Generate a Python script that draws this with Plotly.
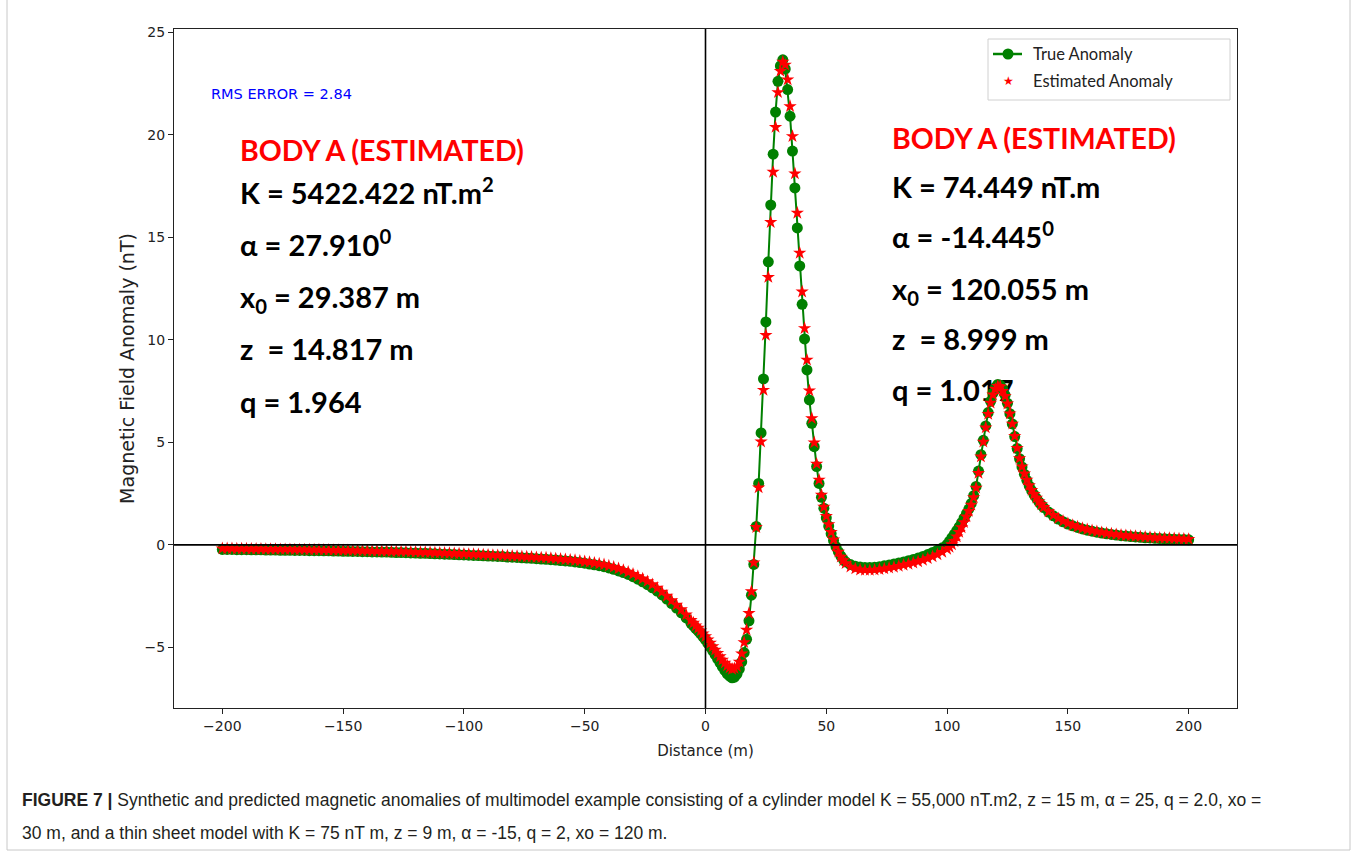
import plotly.graph_objects as go

# ---------------- data ----------------
distance = (list(range(-200, -5, 2)) + list(range(-5, 59)) + list(range(60, 99, 2))
            + list(range(100, 141)) + list(range(142, 201, 2)))

true_anomaly = [
    # -200 .. -6 (step 2)
    -0.22, -0.22, -0.22, -0.23, -0.23, -0.23, -0.24, -0.24, -0.24, -0.25,
    -0.25, -0.25, -0.26, -0.26, -0.26, -0.27, -0.27, -0.27, -0.28, -0.28,
    -0.28, -0.29, -0.29, -0.30, -0.30, -0.31, -0.31, -0.32, -0.32, -0.33,
    -0.33, -0.34, -0.34, -0.35, -0.35, -0.36, -0.37, -0.37, -0.38, -0.39,
    -0.40, -0.41, -0.41, -0.42, -0.43, -0.44, -0.45, -0.46, -0.47, -0.48,
    -0.49, -0.50, -0.51, -0.52, -0.53, -0.54, -0.55, -0.56, -0.57, -0.59,
    -0.60, -0.61, -0.63, -0.64, -0.65, -0.67, -0.69, -0.70, -0.72, -0.74,
    -0.76, -0.78, -0.80, -0.83, -0.86, -0.89, -0.93, -0.97, -1.01, -1.06,
    -1.12, -1.19, -1.27, -1.35, -1.44, -1.55, -1.67, -1.80, -1.94, -2.09,
    -2.25, -2.44, -2.64, -2.86, -3.08, -3.31, -3.56, -3.82,
    # -5 .. 58 (step 1)
    -3.95, -4.08, -4.20, -4.34, -4.48, -4.63, -4.80, -4.98, -5.16, -5.35,
    -5.55, -5.75, -5.95, -6.12, -6.28, -6.40, -6.48, -6.45, -6.30, -6.05,
    -5.70, -5.25, -4.60, -3.70, -2.45, -0.95, 0.90, 3.00, 5.46, 8.09,
    10.87, 13.80, 16.57, 19.05, 21.10, 22.60, 23.35, 23.65, 23.20, 22.20,
    20.90, 19.20, 17.40, 15.45, 13.60, 11.73, 10.04, 8.53, 7.07, 5.93,
    4.79, 3.82, 3.00, 2.32, 1.79, 1.32, 0.92, 0.55, 0.22, -0.08,
    -0.33, -0.54, -0.70, -0.83,
    # 60 .. 98 (step 2)
    -0.96, -1.04, -1.08, -1.10, -1.10, -1.09, -1.06, -1.02, -0.98, -0.93,
    -0.88, -0.83, -0.77, -0.71, -0.64, -0.56, -0.47, -0.37, -0.26, -0.14,
    # 100 .. 140 (step 1)
    0.02, 0.18, 0.35, 0.52, 0.70, 0.88, 1.08, 1.30, 1.52, 1.75,
    2.02, 2.40, 2.85, 3.60, 4.40, 5.10, 5.80, 6.45, 7.00, 7.40,
    7.68, 7.82, 7.78, 7.60, 7.30, 6.90, 6.40, 5.90, 5.28, 4.70,
    4.20, 3.80, 3.45, 3.15, 2.88, 2.65, 2.45, 2.27, 2.10, 1.95, 1.82,
    # 142 .. 200 (step 2)
    1.60, 1.42, 1.26, 1.13, 1.02, 0.93, 0.85, 0.78, 0.72, 0.67,
    0.62, 0.58, 0.54, 0.51, 0.48, 0.45, 0.43, 0.41, 0.39, 0.37,
    0.35, 0.34, 0.32, 0.31, 0.30, 0.29, 0.28, 0.27, 0.26, 0.25,
]

estimated_anomaly = [
    # -200 .. -6 (step 2)
    -0.18, -0.18, -0.18, -0.19, -0.19, -0.19, -0.20, -0.20, -0.20, -0.21,
    -0.21, -0.21, -0.22, -0.22, -0.22, -0.23, -0.23, -0.23, -0.24, -0.24,
    -0.24, -0.25, -0.25, -0.26, -0.26, -0.27, -0.27, -0.28, -0.28, -0.29,
    -0.29, -0.30, -0.30, -0.31, -0.31, -0.32, -0.32, -0.33, -0.33, -0.34,
    -0.35, -0.36, -0.36, -0.37, -0.38, -0.39, -0.40, -0.41, -0.42, -0.43,
    -0.44, -0.45, -0.46, -0.47, -0.48, -0.49, -0.50, -0.51, -0.52, -0.53,
    -0.54, -0.55, -0.57, -0.58, -0.59, -0.61, -0.62, -0.63, -0.65, -0.67,
    -0.69, -0.71, -0.73, -0.75, -0.78, -0.81, -0.84, -0.88, -0.92, -0.96,
    -1.02, -1.08, -1.15, -1.23, -1.32, -1.42, -1.53, -1.65, -1.78, -1.93,
    -2.10, -2.29, -2.49, -2.70, -2.92, -3.15, -3.40, -3.67,
    # -5 .. 58 (step 1)
    -3.80, -3.93, -4.05, -4.18, -4.32, -4.46, -4.62, -4.78, -4.95, -5.12,
    -5.28, -5.44, -5.60, -5.75, -5.88, -5.98, -6.05, -6.02, -5.92, -5.70,
    -5.30, -4.75, -4.14, -3.33, -2.27, -0.86, 0.86, 2.79, 5.03, 7.55,
    10.23, 13.05, 15.73, 18.18, 20.37, 22.06, 23.10, 23.55, 23.40, 22.68,
    21.38, 19.92, 18.10, 16.18, 14.23, 12.34, 10.56, 9.02, 7.52, 6.17,
    4.99, 3.95, 3.17, 2.44, 1.85, 1.40, 1.00, 0.62, 0.26, -0.06,
    -0.34, -0.58, -0.76, -0.90,
    # 60 .. 98 (step 2)
    -1.07, -1.16, -1.21, -1.23, -1.23, -1.22, -1.19, -1.16, -1.12, -1.08,
    -1.03, -0.98, -0.93, -0.87, -0.81, -0.74, -0.66, -0.57, -0.47, -0.35,
    # 100 .. 140 (step 1)
    -0.20, -0.10, 0.02, 0.18, 0.40, 0.62, 0.85, 1.10, 1.38, 1.65,
    1.95, 2.32, 2.78, 3.50, 4.30, 5.02, 5.72, 6.38, 6.92, 7.32,
    7.60, 7.74, 7.72, 7.50, 7.25, 6.88, 6.40, 5.90, 5.30, 4.72,
    4.22, 3.82, 3.47, 3.17, 2.90, 2.67, 2.47, 2.29, 2.12, 1.97, 1.84,
    # 142 .. 200 (step 2)
    1.63, 1.45, 1.29, 1.16, 1.05, 0.96, 0.88, 0.81, 0.75, 0.70,
    0.65, 0.61, 0.57, 0.54, 0.51, 0.48, 0.46, 0.44, 0.42, 0.40,
    0.38, 0.37, 0.35, 0.34, 0.33, 0.32, 0.31, 0.30, 0.29, 0.28,
]

x_ticks = [-200, -150, -100, -50, 0, 50, 100, 150, 200]
y_ticks = [-5, 0, 5, 10, 15, 20, 25]

series_names = ["True Anomaly", "Estimated Anomaly"]
left_title = "BODY A (ESTIMATED)"
left_params = ["K = 5422.422 nT.m<sup>2</sup>", "α = 27.910<sup>0</sup>",
               "x<sub>0</sub> = 29.387 m", "z\u00a0 = 14.817 m", "q = 1.964"]
right_title = "BODY A (ESTIMATED)"
right_params = ["K = 74.449 nT.m", "α = -14.445<sup>0</sup>",
                "x<sub>0</sub> = 120.055 m", "z\u00a0 = 8.999 m", "q = 1.017"]
rms_text = "RMS ERROR = 2.84"
caption_1 = ("<b>FIGURE 7 |</b> Synthetic and predicted magnetic anomalies of multimodel example "
             "consisting of a cylinder model K = 55,000 nT.m2, z = 15 m, α = 25, q = 2.0, xo =")
caption_2 = "30 m, and a thin sheet model with K = 75 nT m, z = 9 m, α = -15, q = 2, xo = 120 m."

# ---------------- layout geometry ----------------
W, H = 1356, 854
L, R, T, B = 174, 1237, 29, 708
XR = [-220, 220]
YR = [-7.95, 25.15]

def px(xp):
    return (xp - L) / (R - L)

def py(yp):
    return (B - yp) / (B - T)

def dx(xp):
    return XR[0] + (xp - L) / (R - L) * (XR[1] - XR[0])

def dy(yp):
    return YR[1] - (yp - T) / (B - T) * (YR[1] - YR[0])

BODY_FONT = "Lato, Roboto, sans-serif"
GREEN = "#008000"
RED = "#ff0000"

fig = go.Figure()

# text blocks (drawn beneath the curves, as in the reference)
def add_block(x_left, ys, title, params):
    fig.add_trace(go.Scatter(
        x=[dx(x_left)], y=[dy(ys[0])], mode="text", text=[title],
        textposition="middle right", showlegend=False, hoverinfo="skip",
        textfont=dict(family=BODY_FONT, size=28.5, color=RED, weight="bold")))
    fig.add_trace(go.Scatter(
        x=[dx(x_left)] * len(params), y=[dy(v) for v in ys[1:]], mode="text", text=params,
        textposition="middle right", showlegend=False, hoverinfo="skip",
        textfont=dict(family=BODY_FONT, size=29, color="#000000", weight="bold")))

add_block(240, [154, 197, 249, 301, 353, 406], left_title, left_params)
add_block(892, [142, 191, 241, 293, 343, 394], right_title, right_params)

fig.add_trace(go.Scatter(
    x=distance, y=true_anomaly, mode="lines+markers", name=series_names[0],
    line=dict(color=GREEN, width=2),
    marker=dict(symbol="circle", size=11, color=GREEN)))
fig.add_trace(go.Scatter(
    x=distance, y=estimated_anomaly, mode="markers", name=series_names[1],
    marker=dict(symbol="star", size=10, color=RED, line=dict(width=0))))

# zero reference lines (on top)
fig.add_shape(type="line", xref="paper", yref="y", x0=0, x1=1, y0=0, y1=0,
              line=dict(color="black", width=1.6), layer="above")
fig.add_shape(type="line", xref="x", yref="paper", x0=0, x1=0, y0=0, y1=1,
              line=dict(color="black", width=1.6), layer="above")

# page border
fig.add_shape(type="rect", xref="paper", yref="paper",
              x0=px(7), x1=px(1350), y0=py(850), y1=py(-10),
              line=dict(color="#c8c8c8", width=1), layer="below")

# legend (matplotlib style box)
fig.add_shape(type="rect", xref="paper", yref="paper",
              x0=px(988), x1=px(1230), y0=py(100), y1=py(39),
              line=dict(color="#d0d0d0", width=1), fillcolor="white", layer="above")
fig.add_shape(type="line", xref="paper", yref="paper",
              x0=px(993), x1=px(1022), y0=py(54), y1=py(54),
              line=dict(color=GREEN, width=2.5), layer="above")
fig.add_shape(type="circle", xref="paper", yref="paper", xsizemode="pixel", ysizemode="pixel",
              xanchor=px(1008), yanchor=py(54), x0=-5.5, x1=5.5, y0=-5.5, y1=5.5,
              line=dict(color=GREEN, width=0), fillcolor=GREEN, layer="above")
fig.add_annotation(x=px(1008), y=py(81.5), xref="paper", yref="paper", text="★",
                   showarrow=False, xanchor="center", yanchor="middle",
                   font=dict(family="DejaVu Sans, sans-serif", size=12, color=RED))
for name, yy in zip(series_names, [54, 81]):
    fig.add_annotation(x=px(1031), y=py(yy), xref="paper", yref="paper", text=name,
                       showarrow=False, xanchor="left", yanchor="middle",
                       font=dict(family="Lato, sans-serif", size=16.5, color="#222"))

fig.add_annotation(x=px(209), y=py(94), xref="paper", yref="paper", text=rms_text,
                   showarrow=False, xanchor="left", yanchor="middle",
                   font=dict(family="DejaVu Sans, sans-serif", size=14.5, color="#0000ff"))

cap_font = dict(family="Liberation Sans, Arial, sans-serif", size=17.5, color="#231f20")
fig.add_annotation(x=px(20), y=py(800), xref="paper", yref="paper", text=caption_1,
                   showarrow=False, xanchor="left", yanchor="middle", font=cap_font)
fig.add_annotation(x=px(20), y=py(833), xref="paper", yref="paper", text=caption_2,
                   showarrow=False, xanchor="left", yanchor="middle", font=cap_font)

axis_font = dict(family="DejaVu Sans, sans-serif", size=14, color="#222")

fig.update_layout(
    width=W, height=H,
    margin=dict(l=L, r=W - R, t=T, b=H - B),
    paper_bgcolor="white", plot_bgcolor="white",
    showlegend=False,
    xaxis=dict(range=XR, tickvals=x_ticks, ticks="outside", ticklen=5, tickcolor="#222",
               showline=True, linecolor="#222", linewidth=1.3, mirror=True,
               showgrid=False, zeroline=False, tickfont=axis_font,
               title=dict(text="Distance (m)", font=dict(family="DejaVu Sans, sans-serif", size=15, color="#222"),
                          standoff=12)),
    yaxis=dict(range=YR, tickvals=y_ticks, ticks="outside", ticklen=5, tickcolor="#222",
               showline=True, linecolor="#222", linewidth=1.3, mirror=True,
               showgrid=False, zeroline=False, tickfont=axis_font,
               title=dict(text="Magnetic Field Anomaly (nT)",
                          font=dict(family="DejaVu Sans, sans-serif", size=19, color="#222"),
                          standoff=4)),
)

fig.write_html("out.html")
